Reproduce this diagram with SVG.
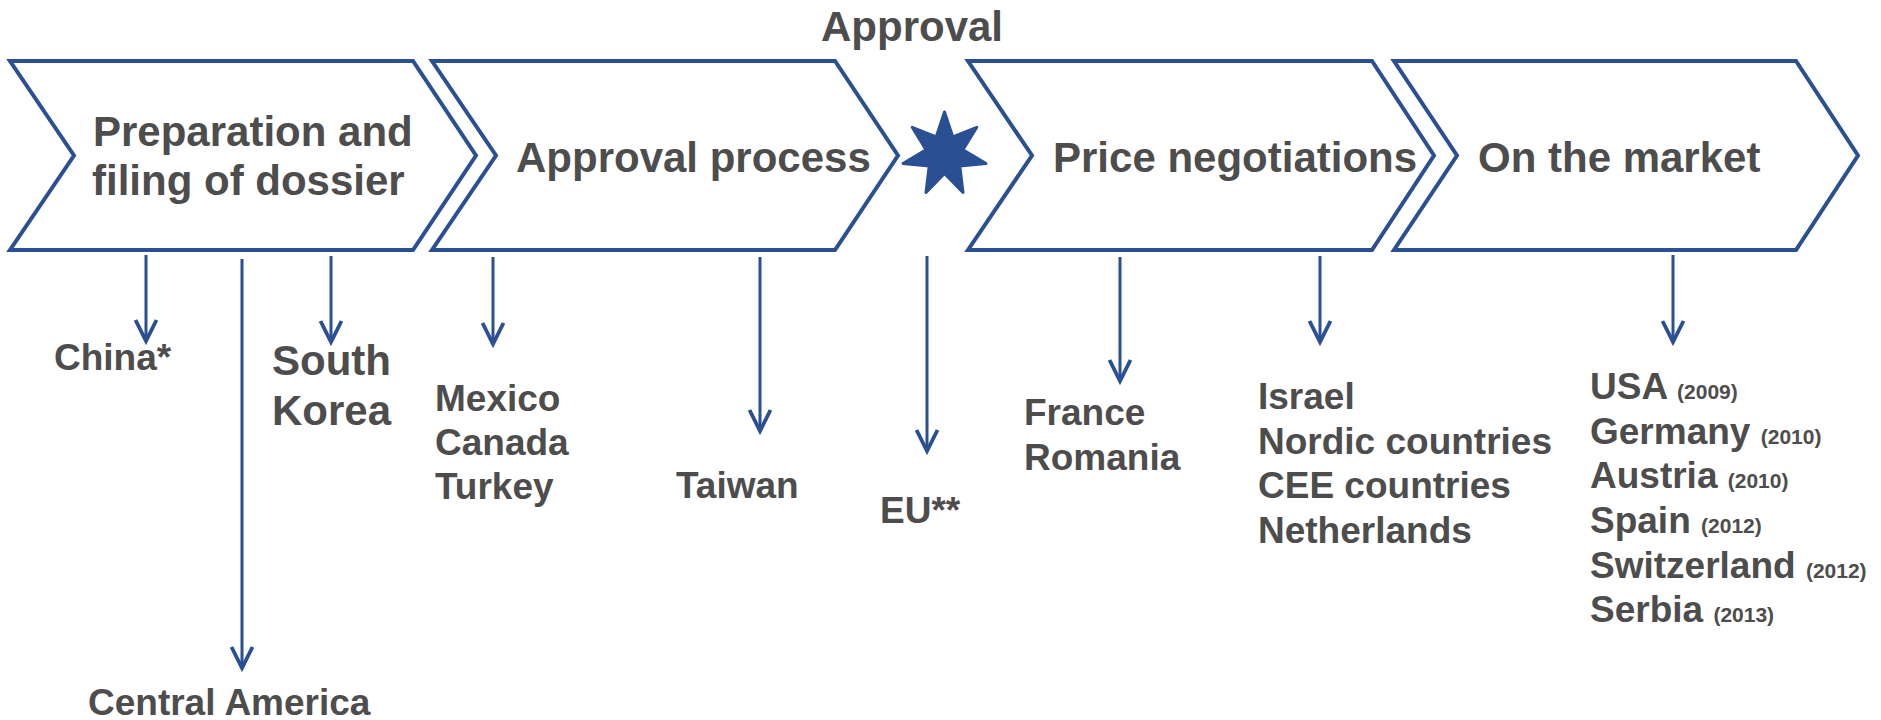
<svg xmlns="http://www.w3.org/2000/svg" width="1881" height="720" viewBox="0 0 1881 720">
<defs>
<style>
.chev{fill:#ffffff;stroke:#2A4F93;stroke-width:4;stroke-linejoin:miter}
.t{font-family:"Liberation Sans",Arial,sans-serif;font-weight:bold;fill:#4D4D4D}
.h{font-size:42px}
.l{font-size:37px}
.y{font-size:21px}
.c{stroke:#2A4F93;stroke-width:3;fill:none}
</style>
<marker id="ah" markerUnits="userSpaceOnUse" markerWidth="30" markerHeight="30" viewBox="-26 -15 30 30" refX="0" refY="0" orient="auto">
<path d="M-21,-10.5 L0,0 L-21,10.5" fill="none" stroke="#2A4F93" stroke-width="3.8" stroke-linejoin="miter"/>
</marker>
</defs>
<rect width="1881" height="720" fill="#ffffff"/>

<g id="step-preparation">
<polygon class="chev" points="10,61 413,61 476,155.5 413,250 10,250 74,155.5"/>
<text class="t h" x="93" y="145.5">Preparation and</text>
<text class="t h" x="92" y="195">filing of dossier</text>
</g>
<g id="step-approval">
<polygon class="chev" points="432,61 835,61 898,155.5 835,250 432,250 496,155.5"/>
<text class="t h" x="516" y="171.5">Approval process</text>
</g>
<g id="milestone-approval">
<text class="t h" x="821" y="40.5">Approval</text>
<polygon fill="#2A4F93" stroke="#2A4F93" stroke-width="3" stroke-linejoin="round" points="944.5,112 952.8,137 976.8,127.3 963,149.8 986,163.5 959.8,166 963,192.5 944.5,173.5 926,192.5 929.2,166 903,163.5 926,149.8 912.2,127.3 936.2,137"/>
</g>
<g id="step-price">
<polygon class="chev" points="968,61 1372,61 1434,155.5 1372,250 968,250 1032,155.5"/>
<text class="t h" x="1053" y="171.5">Price negotiations</text>
</g>
<g id="step-market">
<polygon class="chev" points="1394,61 1796,61 1858,155.5 1796,250 1394,250 1457,155.5"/>
<text class="t h" x="1478" y="171.5">On the market</text>
</g>

<g id="connectors">
<line class="c" x1="146" y1="255" x2="146" y2="341" marker-end="url(#ah)"/>
<line class="c" x1="242" y1="259" x2="242" y2="668" marker-end="url(#ah)"/>
<line class="c" x1="331" y1="256" x2="331" y2="342" marker-end="url(#ah)"/>
<line class="c" x1="493" y1="257" x2="493" y2="344" marker-end="url(#ah)"/>
<line class="c" x1="760" y1="257" x2="760" y2="431" marker-end="url(#ah)"/>
<line class="c" x1="927" y1="256" x2="927" y2="451" marker-end="url(#ah)"/>
<line class="c" x1="1120" y1="257" x2="1120" y2="381" marker-end="url(#ah)"/>
<line class="c" x1="1320" y1="256" x2="1320" y2="342" marker-end="url(#ah)"/>
<line class="c" x1="1673" y1="255" x2="1673" y2="342" marker-end="url(#ah)"/>
</g>

<g id="label-china"><text class="t l" x="54" y="370">China*</text></g>
<g id="label-central-america"><text class="t l" x="88" y="715">Central America</text></g>
<g id="label-south-korea">
<text class="t h" x="272" y="375">South</text>
<text class="t h" x="272" y="425">Korea</text>
</g>
<g id="label-mexico">
<text class="t l" x="435" y="410.5">Mexico</text>
<text class="t l" x="435" y="454.5">Canada</text>
<text class="t l" x="435" y="499">Turkey</text>
</g>
<g id="label-taiwan"><text class="t l" x="676" y="498">Taiwan</text></g>
<g id="label-eu"><text class="t l" x="880" y="523">EU**</text></g>
<g id="label-france">
<text class="t l" x="1024" y="425">France</text>
<text class="t l" x="1024" y="470">Romania</text>
</g>
<g id="label-israel">
<text class="t l" x="1258" y="409">Israel</text>
<text class="t l" x="1258" y="453.5">Nordic countries</text>
<text class="t l" x="1258" y="498">CEE countries</text>
<text class="t l" x="1258" y="543">Netherlands</text>
</g>
<g id="label-market">
<text class="t l" x="1590" y="399">USA <tspan class="y">(2009)</tspan></text>
<text class="t l" x="1590" y="443.5">Germany <tspan class="y">(2010)</tspan></text>
<text class="t l" x="1590" y="488">Austria <tspan class="y">(2010)</tspan></text>
<text class="t l" x="1590" y="533">Spain <tspan class="y">(2012)</tspan></text>
<text class="t l" x="1590" y="578">Switzerland <tspan class="y">(2012)</tspan></text>
<text class="t l" x="1590" y="622">Serbia <tspan class="y">(2013)</tspan></text>
</g>
</svg>
